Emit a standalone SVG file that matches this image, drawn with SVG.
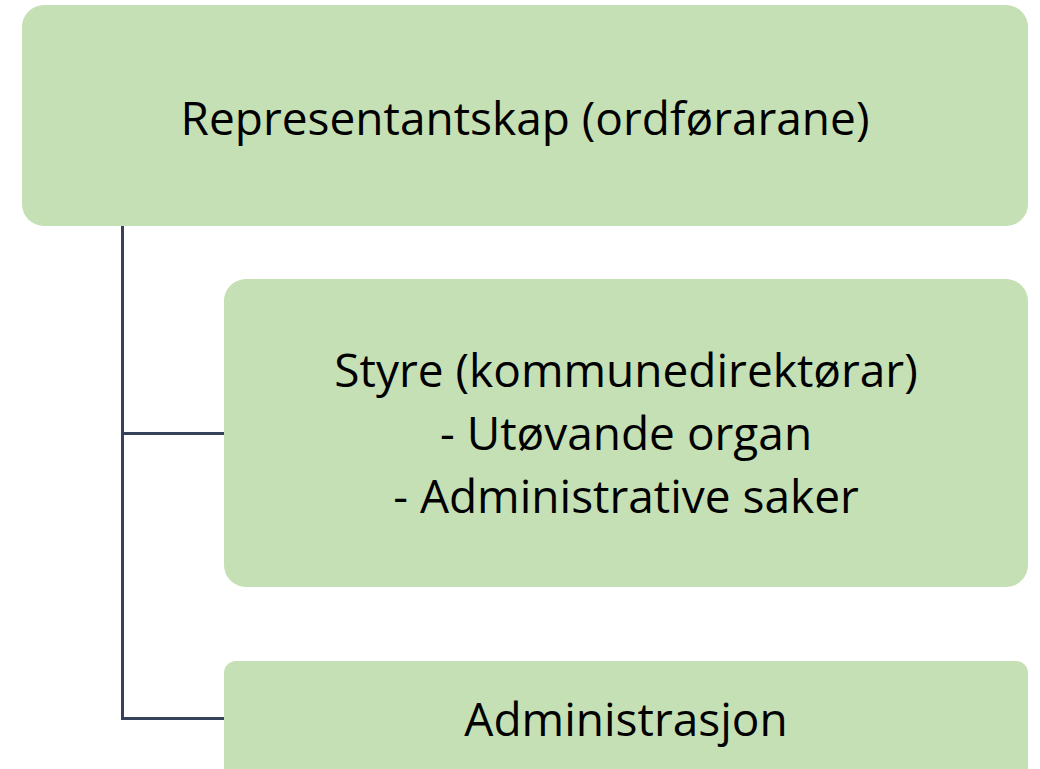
<svg xmlns="http://www.w3.org/2000/svg" width="1040" height="769" viewBox="0 0 1040 769">
<style>
.box{fill:#c5e0b4;}
.t{font-family:"Open Sans","Noto Sans",sans-serif;font-size:46px;fill:#000;text-anchor:middle;}
.c{fill:none;stroke:#37425a;stroke-width:3;}
</style>
<rect width="1040" height="769" fill="#ffffff"/>
<g id="connectors">
<path class="c" d="M122.5 226 V718.5 H225"/>
<path class="c" d="M122.5 433.5 H225"/>
</g>
<g id="representantskap">
<rect class="box" x="22" y="5" width="1006" height="221" rx="22"/>
<text class="t" x="525" y="135">Representantskap (ordførarane)</text>
</g>
<g id="styre">
<rect class="box" x="224" y="279" width="804" height="308" rx="22"/>
<text class="t" x="626" y="387">Styre (kommunedirektørar)</text>
<text class="t" x="626" y="450">- Utøvande organ</text>
<text class="t" x="626" y="513">- Administrative saker</text>
</g>
<g id="administrasjon">
<rect class="box" x="224" y="661" width="804" height="140" rx="12"/>
<text class="t" x="626" y="736">Administrasjon</text>
</g>
</svg>
